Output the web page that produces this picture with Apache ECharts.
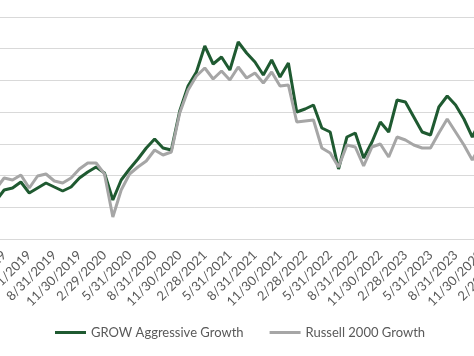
<!DOCTYPE html>
<html>
<head>
<meta charset="utf-8">
<script src="https://cdn.jsdelivr.net/npm/echarts@6/dist/echarts.min.js"></script>
<style>
  html, body { margin: 0; padding: 0; width: 474px; height: 356px; overflow: hidden; background: #fff; position: relative; }
  #chart { position: absolute; left: -100px; top: 0; width: 800px; height: 356px; }
</style>
</head>
<body>
<div id="chart"></div>
<script>
const categories = [
  '1/31/2019','2/28/2019','3/31/2019','4/30/2019','5/31/2019','6/30/2019','7/31/2019','8/31/2019','9/30/2019','10/31/2019','11/30/2019','12/31/2019',
  '1/31/2020','2/29/2020','3/31/2020','4/30/2020','5/31/2020','6/30/2020','7/31/2020','8/31/2020','9/30/2020','10/31/2020','11/30/2020','12/31/2020',
  '1/31/2021','2/28/2021','3/31/2021','4/30/2021','5/31/2021','6/30/2021','7/31/2021','8/31/2021','9/30/2021','10/31/2021','11/30/2021','12/31/2021',
  '1/31/2022','2/28/2022','3/31/2022','4/30/2022','5/31/2022','6/30/2022','7/31/2022','8/31/2022','9/30/2022','10/31/2022','11/30/2022','12/31/2022',
  '1/31/2023','2/28/2023','3/31/2023','4/30/2023','5/31/2023','6/30/2023','7/31/2023','8/31/2023','9/30/2023','10/31/2023','11/30/2023','12/31/2023',
  '1/31/2024','2/29/2024','3/31/2024'
];

const growAggressiveGrowth = [
  5990, 7725, 8041, 8987, 7252, 8041, 8829, 8198, 7568, 8198, 9617, 10563, 11352,
  10406, 6149, 9302, 11036, 12613, 14347, 15766, 14347, 14032, 20180,
  24122, 26329, 30428, 27591, 28694, 26645, 31059, 29325, 27906, 25856,
  28221, 25541, 27748, 20023, 20496, 21126, 17500, 16870, 11036, 16081,
  16712, 12770, 15293, 18446, 16870, 21915, 21599, 19235, 16870, 16396,
  20811, 22545, 21126, 18919, 16081, 18762
];

const russell2000Growth = [
  7883, 9617, 9302, 10090, 8041, 9933, 10248, 9144, 8829, 9617, 11036, 11982, 11982,
  10248, 3470, 7725, 10248, 11352, 12297, 14032, 13243, 13716, 19865,
  23491, 25699, 26960, 25226, 26487, 25068, 27118, 25383, 26172, 24595,
  26329, 24122, 24280, 18446, 18604, 18762, 14347, 13559, 11352, 14820,
  14505, 11509, 14505, 14978, 12928, 16081, 15608, 14820, 14347, 14347,
  16712, 18919, 16870, 14820, 12455, 14820
];

const seriesNames = ['GROW Aggressive Growth', 'Russell 2000 Growth'];

const chart = echarts.init(document.getElementById('chart'), null, { renderer: 'canvas' });
chart.setOption({
  animation: false,
  backgroundColor: '#ffffff',
  grid: { left: 95.8, right: 185.9, top: 17, bottom: 117, containLabel: false },
  legend: {
    left: 155, top: 326, padding: 0,
    itemWidth: 31, itemHeight: 3, itemGap: 26,
    icon: 'rect',
    textStyle: { fontFamily: 'Lato', fontSize: 13, color: '#595959' },
    data: seriesNames
  },
  xAxis: {
    type: 'category',
    boundaryGap: false,
    data: categories,
    axisLine: { lineStyle: { color: '#D9D9D9', width: 1 } },
    axisTick: { show: false },
    axisLabel: {
      rotate: 45,
      margin: 14,
      interval: function (i) { return i % 3 === 1; },
      fontFamily: 'Lato', fontSize: 13, color: '#595959'
    },
    splitLine: { show: false }
  },
  yAxis: {
    type: 'value',
    min: 0, max: 35000, interval: 5000,
    axisLine: { show: false },
    axisTick: { show: false },
    axisLabel: { show: false },
    splitLine: { lineStyle: { color: '#D9D9D9', width: 1 } }
  },
  series: [
    {
      name: seriesNames[0], type: 'line', data: growAggressiveGrowth,
      symbol: 'none', smooth: false,
      lineStyle: { color: '#1F5A31', width: 3 }, itemStyle: { color: '#1F5A31' }
    },
    {
      name: seriesNames[1], type: 'line', data: russell2000Growth,
      symbol: 'none', smooth: false,
      lineStyle: { color: '#A6A6A6', width: 3 }, itemStyle: { color: '#A6A6A6' }
    }
  ]
});
</script>
</body>
</html>
